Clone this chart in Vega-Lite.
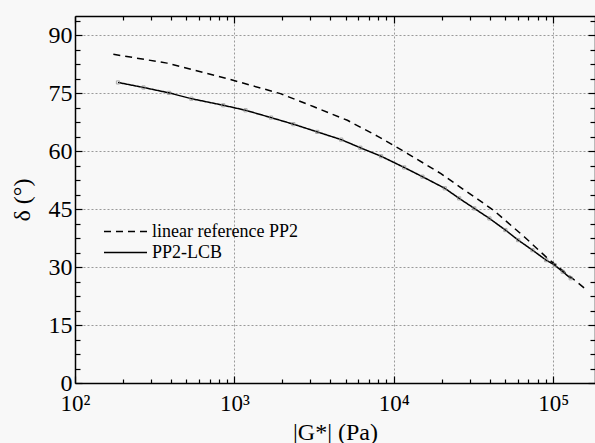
{
  "$schema": "https://vega.github.io/schema/vega-lite/v6.json",
  "width": 520,
  "height": 367,
  "autosize": "none",
  "padding": {"left": 75, "top": 16, "right": 0, "bottom": 60},
  "background": "#f8f8f8",
  "config": {
    "font": "Liberation Serif",
    "view": {"stroke": null},
    "axis": {
      "domainColor": "black",
      "domainWidth": 1.5,
      "tickColor": "black",
      "tickWidth": 1.2,
      "labelColor": "black",
      "titleColor": "black",
      "labelFont": "Liberation Serif",
      "titleFont": "Liberation Serif",
      "titleFontWeight": "normal",
      "gridColor": "#9a9a9a",
      "gridDash": [2, 2],
      "gridWidth": 1
    },
    "legend": {"labelFont": "Liberation Serif"}
  },
  "data": {
    "values": [
      {"series": "linear reference PP2", "G": 174, "delta": 85.1},
      {"series": "linear reference PP2", "G": 378, "delta": 82.8},
      {"series": "linear reference PP2", "G": 899, "delta": 78.8},
      {"series": "linear reference PP2", "G": 1945, "delta": 74.9},
      {"series": "linear reference PP2", "G": 3155, "delta": 71.5},
      {"series": "linear reference PP2", "G": 5117, "delta": 68.0},
      {"series": "linear reference PP2", "G": 7889, "delta": 63.9},
      {"series": "linear reference PP2", "G": 12190, "delta": 59.4},
      {"series": "linear reference PP2", "G": 19770, "delta": 54.2},
      {"series": "linear reference PP2", "G": 27542, "delta": 50.0},
      {"series": "linear reference PP2", "G": 33574, "delta": 47.6},
      {"series": "linear reference PP2", "G": 42855, "delta": 44.5},
      {"series": "linear reference PP2", "G": 66069, "delta": 37.8},
      {"series": "linear reference PP2", "G": 92683, "delta": 32.2},
      {"series": "linear reference PP2", "G": 156675, "delta": 24.6},
      {"series": "PP2-LCB", "G": 186, "delta": 77.8},
      {"series": "PP2-LCB", "G": 269, "delta": 76.5},
      {"series": "PP2-LCB", "G": 389, "delta": 75.1},
      {"series": "PP2-LCB", "G": 537, "delta": 73.6},
      {"series": "PP2-LCB", "G": 851, "delta": 71.9},
      {"series": "PP2-LCB", "G": 1175, "delta": 70.6},
      {"series": "PP2-LCB", "G": 1698, "delta": 68.7},
      {"series": "PP2-LCB", "G": 2344, "delta": 67.0},
      {"series": "PP2-LCB", "G": 3311, "delta": 65.0},
      {"series": "PP2-LCB", "G": 4677, "delta": 63.0},
      {"series": "PP2-LCB", "G": 6166, "delta": 60.9},
      {"series": "PP2-LCB", "G": 8318, "delta": 58.7},
      {"series": "PP2-LCB", "G": 11614, "delta": 55.8},
      {"series": "PP2-LCB", "G": 15136, "delta": 53.4},
      {"series": "PP2-LCB", "G": 20893, "delta": 50.4},
      {"series": "PP2-LCB", "G": 25704, "delta": 47.8},
      {"series": "PP2-LCB", "G": 31989, "delta": 45.2},
      {"series": "PP2-LCB", "G": 39811, "delta": 42.6},
      {"series": "PP2-LCB", "G": 50119, "delta": 39.6},
      {"series": "PP2-LCB", "G": 60256, "delta": 37.0},
      {"series": "PP2-LCB", "G": 74131, "delta": 34.4},
      {"series": "PP2-LCB", "G": 90365, "delta": 31.8},
      {"series": "PP2-LCB", "G": 102329, "delta": 30.5},
      {"series": "PP2-LCB", "G": 114815, "delta": 28.8},
      {"series": "PP2-LCB", "G": 128825, "delta": 27.1}
    ]
  },
  "layer": [
    {
      "mark": {"type": "line", "opacity": 0},
      "encoding": {
        "x": {
          "field": "G",
          "type": "quantitative",
          "axis": {
            "orient": "bottom",
            "values": [1000, 10000, 100000],
            "tickCount": 100,
            "grid": true,
            "gridColor": "#9a9a9a",
            "gridDash": [2, 2],
            "labels": false,
            "ticks": false,
            "domain": false,
            "title": null
          }
        },
        "y": {"field": "delta", "type": "quantitative", "axis": null}
      }
    },
    {
      "mark": {"type": "line", "color": "black", "strokeWidth": 1.5, "clip": true},
      "encoding": {
        "x": {
          "field": "G",
          "type": "quantitative",
          "scale": {"type": "log", "domain": [100, 183000], "nice": false},
          "axis": {
            "orient": "bottom",
            "values": [100, 200, 300, 400, 500, 600, 700, 800, 900, 1000, 2000, 3000, 4000, 5000, 6000, 7000, 8000, 9000, 10000, 20000, 30000, 40000, 50000, 60000, 70000, 80000, 90000, 100000],
            "tickCount": 100,
            "labelExpr": "datum.value==100?'10²':datum.value==1000?'10³':datum.value==10000?'10⁴':datum.value==100000?'10⁵':''",
            "tickSize": {"condition": {"test": "abs(log(datum.value)/LN10 - round(log(datum.value)/LN10)) < 0.001", "value": -7}, "value": -4},
            "grid": false,
            "labelFontSize": 23,
            "labelPadding": 16,
            "labelOverlap": false,
            "labelFlush": false,
            "title": "|G*| (Pa)",
            "titleFontSize": 24,
            "titlePadding": 2
          }
        },
        "y": {
          "field": "delta",
          "type": "quantitative",
          "scale": {"domain": [0, 95], "nice": false},
          "axis": {
            "orient": "left",
            "values": [0, 3.75, 7.5, 11.25, 15, 18.75, 22.5, 26.25, 30, 33.75, 37.5, 41.25, 45, 48.75, 52.5, 56.25, 60, 63.75, 67.5, 71.25, 75, 78.75, 82.5, 86.25, 90, 93.75],
            "tickCount": 100,
            "labelExpr": "datum.value % 15 == 0 ? datum.label : ''",
            "tickSize": {"condition": {"test": "datum.value % 15 == 0", "value": -7}, "value": -5},
            "grid": true,
            "gridColor": {"condition": {"test": "datum.value % 15 == 0 && datum.value > 0", "value": "#9a9a9a"}, "value": "transparent"},
            "labelFontSize": 24,
            "labelPadding": 10,
            "labelOverlap": false,
            "labelFlush": false,
            "title": "δ (°)",
            "titleFontSize": 24,
            "titlePadding": 14
          }
        },
        "strokeDash": {
          "field": "series",
          "type": "nominal",
          "scale": {"domain": ["linear reference PP2", "PP2-LCB"], "range": [[7, 5], [1, 0]]},
          "legend": {
            "orient": "none",
            "legendX": 28,
            "legendY": 206,
            "title": null,
            "symbolType": "stroke",
            "symbolSize": 1850,
            "symbolStrokeColor": "black",
            "symbolStrokeWidth": 1.5,
            "clipHeight": 19,
            "labelFont": "Liberation Serif",
            "labelFontSize": 18,
            "labelColor": "black",
            "labelOffset": 4,
            "rowPadding": 2,
            "labelLimit": 400
          }
        }
      }
    },
    {
      "transform": [{"filter": "datum.series == 'PP2-LCB'"}],
      "mark": {"type": "point", "shape": "square", "filled": false, "size": 10, "color": "#8a8a8a", "strokeWidth": 1, "clip": true},
      "encoding": {
        "x": {
          "field": "G",
          "type": "quantitative",
          "axis": {
            "orient": "top",
            "values": [100, 200, 300, 400, 500, 600, 700, 800, 900, 1000, 2000, 3000, 4000, 5000, 6000, 7000, 8000, 9000, 10000, 20000, 30000, 40000, 50000, 60000, 70000, 80000, 90000, 100000],
            "tickCount": 100,
            "labels": false,
            "tickSize": {"condition": {"test": "abs(log(datum.value)/LN10 - round(log(datum.value)/LN10)) < 0.001", "value": -7}, "value": -4},
            "grid": false,
            "title": null
          }
        },
        "y": {
          "field": "delta",
          "type": "quantitative",
          "axis": {
            "orient": "right",
            "values": [0, 3.75, 7.5, 11.25, 15, 18.75, 22.5, 26.25, 30, 33.75, 37.5, 41.25, 45, 48.75, 52.5, 56.25, 60, 63.75, 67.5, 71.25, 75, 78.75, 82.5, 86.25, 90, 93.75],
            "tickCount": 100,
            "labels": false,
            "tickSize": {"condition": {"test": "datum.value % 15 == 0", "value": -7}, "value": -5},
            "grid": false,
            "title": null
          }
        }
      }
    }
  ],
  "resolve": {"axis": {"x": "independent", "y": "independent"}}
}
